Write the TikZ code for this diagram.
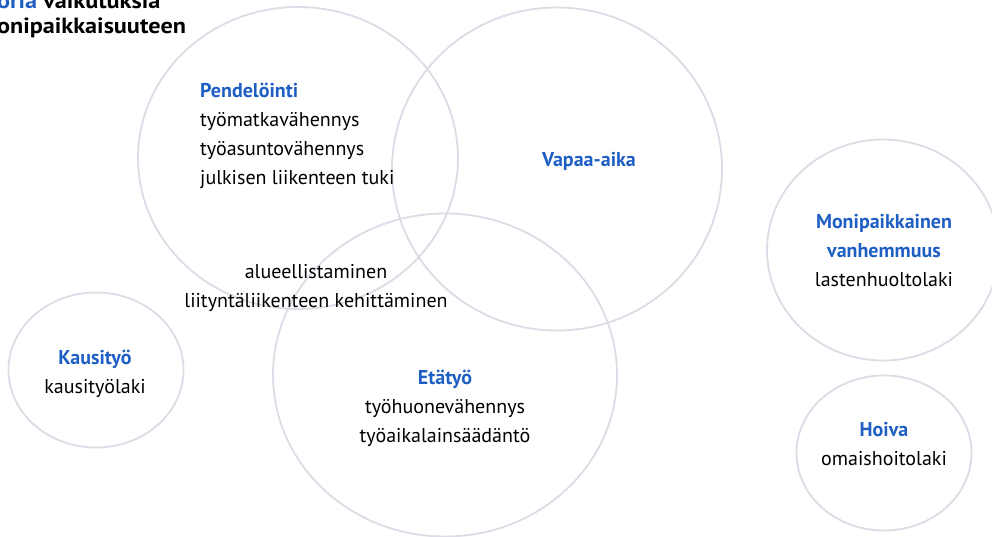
\documentclass[tikz,border=0pt]{standalone}
\usepackage{fontspec}
\setmainfont{PT Sans}
\newfontfamily\titlefont{PT Sans}[FakeStretch=1.1]
\usetikzlibrary{shapes.geometric}
\definecolor{ringgray}{HTML}{DCDCE6}
\definecolor{topicblue}{HTML}{1F5FC4}
\newcommand{\topic}[1]{\textcolor{topicblue}{\bfseries #1}}
\tikzset{
  ring/.style  = {draw=ringgray, line width=1.8pt, ellipse, inner sep=0pt},
  txt/.style   = {font=\fontsize{20}{29}\selectfont, inner sep=0pt, anchor=base},
  ttl/.style   = {font=\titlefont\bfseries\fontsize{22}{25}\selectfont,
                  inner sep=0pt, anchor=base west},
}

\begin{document}
\begin{tikzpicture}[x=1pt,y=-1pt]
  \useasboundingbox (0,0) rectangle (992,537);
  % rings
  \node[ring, minimum width=320pt, minimum height=302pt] (pend)  at (298,158) {};
  \node[ring, minimum width=330pt, minimum height=323pt] (vapaa) at (557,169) {};
  \node[ring, minimum width=344pt, minimum height=323pt] (eta)   at (445,375) {};
  \node[ring, minimum width=175pt, minimum height=155pt] (kausi) at (96,370) {};
  \node[ring, minimum width=232pt, minimum height=221pt] (moni)  at (883,250) {};
  \node[ring, minimum width=175pt, minimum height=155pt] (hoiva) at (884,453) {};
  % title (cut at the edge)
  \node[ttl] (ttl1) at (-3,9) {\textcolor{topicblue}{oria} vaikutuksia};
  \node[ttl] (ttl2) at (-3,34) {onipaikkaisuuteen};
  % texts, placed at the baseline of their last line
  \node[txt, anchor=base west, align=left] (pendt) at (200,185)
    {\topic{Pendelöinti}\\työmatkavähennys\\työasuntovähennys\\julkisen liikenteen tuki};
  \node[txt] (vapaat) at (589,167) {\topic{Vapaa-aika}};
  \node[txt, align=center] (alue) at (316,307)
    {alueellistaminen\\liityntäliikenteen kehittäminen};
  \node[txt, align=center] (etat) at (445,442)
    {\topic{Etätyö}\\työhuonevähennys\\työaikalainsäädäntö};
  \node[txt, align=center] (kausit) at (95,393)
    {\topic{Kausityö}\\kausityölaki};
  \node[txt, align=center] (monit) at (884,286)
    {\topic{Monipaikkainen}\\\topic{vanhemmuus}\\lastenhuoltolaki};
  \node[txt, align=center] (hoivat) at (884,465)
    {\topic{Hoiva}\\omaishoitolaki};
\end{tikzpicture}
\end{document}
